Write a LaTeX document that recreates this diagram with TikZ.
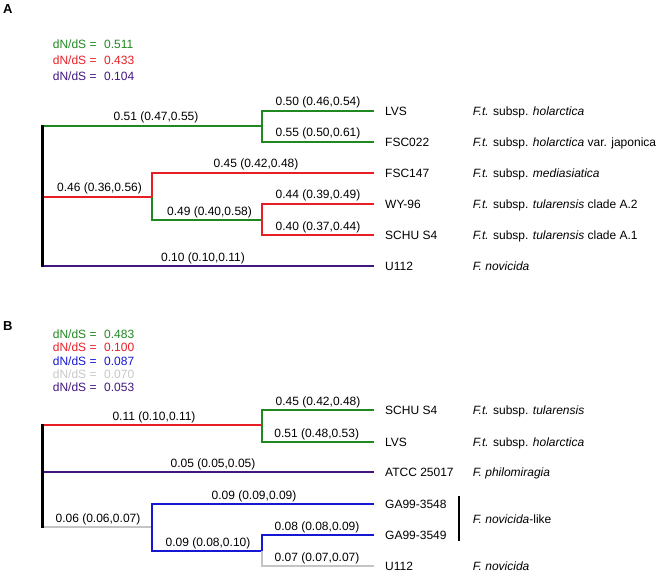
\documentclass[tikz,border=0pt]{standalone}
\usepackage{fontspec}
\setmainfont{Liberation Sans}
\definecolor{grn}{RGB}{32,136,32}
\definecolor{rd}{RGB}{232,30,36}
\definecolor{pur}{RGB}{66,22,128}
\definecolor{blu}{RGB}{22,22,212}
\definecolor{gry}{RGB}{196,196,196}
\definecolor{lgry}{RGB}{200,200,200}
\begin{document}
\begin{tikzpicture}[x=1pt,y=-1pt,font=\fontsize{12}{14}\selectfont,
  br/.style={line width=2.3pt,line join=miter,line cap=butt},
  rootline/.style={line width=3pt,black,shorten <=-1.15pt,shorten >=-1.15pt},
  blab/.style={anchor=base,inner sep=0pt},
  leaf/.style={anchor=west,inner xsep=11pt,inner ysep=0pt,text height=8.6pt,text depth=0pt},
  spec/.style={anchor=west,inner sep=0pt,text height=8.6pt,text depth=0pt},
  leg/.style={anchor=base west,inner sep=0pt},
  panel/.style={anchor=base west,inner sep=0pt,font=\fontsize{13}{15}\selectfont\bfseries}]
\useasboundingbox (0,0) rectangle (661,572);

% ---------------- Panel A ----------------
\node[panel] (pA) at (3,13.7) {A};
\node[leg,text=grn] (legA1) at (52.7,48.3) {dN/dS =\hspace{7.6pt}0.511};
\node[leg,text=rd]  (legA2) at (52.7,65) {dN/dS =\hspace{7.6pt}0.433};
\node[leg,text=pur] (legA3) at (52.7,81) {dN/dS =\hspace{7.6pt}0.104};

\coordinate (rA1) at (42,126);
\coordinate (rA2) at (42,197);
\coordinate (rA3) at (42,266);
\coordinate (nA1) at (262,126);
\coordinate (nA2) at (152,197);
\coordinate (nA3) at (262,220);

\node[leaf] (lvsA)  at (374,111) {LVS};
\node[leaf] (fsc22A) at (374,142) {FSC022};
\node[leaf] (fsc147A) at (374,173) {FSC147};
\node[leaf] (wyA)   at (374,204) {WY-96};
\node[leaf] (schuA) at (374,235) {SCHU S4};
\node[leaf] (uA)    at (374,266) {U112};

\node[spec] (sA1) at (472.7,111) {{\itshape F.t.} subsp. {\itshape holarctica}};
\node[spec] (sA2) at (472.7,142) {{\itshape F.t.} subsp. {\itshape holarctica} var. japonica};
\node[spec] (sA3) at (472.7,173) {{\itshape F.t.} subsp. {\itshape mediasiatica}};
\node[spec] (sA4) at (472.7,204) {{\itshape F.t.} subsp. {\itshape tularensis} clade A.2};
\node[spec] (sA5) at (472.7,235) {{\itshape F.t.} subsp. {\itshape tularensis} clade A.1};
\node[spec] (sA6) at (472.7,266) {{\itshape F. novicida}};

\draw[br,grn] (lvsA.west) -| (nA1) |- (fsc22A.west);
\draw[br,grn] (rA1) -- (nA1);
\draw[br,rd] (fsc147A.west) -| (nA2);
\draw[br,rd] (rA2) -- (nA2);
\draw[br,grn] (nA2) |- (nA3);
\draw[br,rd] (wyA.west) -| (nA3) |- (schuA.west);
\draw[br,pur] (rA3) -- (uA.west);
\draw[rootline] (rA1) -- (rA3);

\node[blab] (bA1) at (318,106) {0.50 (0.46,0.54)};
\node[blab] (bA2) at (156,121) {0.51 (0.47,0.55)};
\node[blab] (bA3) at (318,137) {0.55 (0.50,0.61)};
\node[blab] (bA4) at (256,168) {0.45 (0.42,0.48)};
\node[blab] (bA5) at (99.5,192) {0.46 (0.36,0.56)};
\node[blab] (bA6) at (318,199) {0.44 (0.39,0.49)};
\node[blab] (bA7) at (209.5,215) {0.49 (0.40,0.58)};
\node[blab] (bA8) at (318,230) {0.40 (0.37,0.44)};
\node[blab] (bA9) at (203,261) {0.10 (0.10,0.11)};

% ---------------- Panel B ----------------
\node[panel] (pB) at (3,330.4) {B};
\node[leg,text=grn]  (legB1) at (52.7,338.3) {dN/dS =\hspace{7.6pt}0.483};
\node[leg,text=rd]   (legB2) at (52.7,351.7) {dN/dS =\hspace{7.6pt}0.100};
\node[leg,text=blu]  (legB3) at (52.7,365.1) {dN/dS =\hspace{7.6pt}0.087};
\node[leg,text=lgry] (legB4) at (52.7,378.5) {dN/dS =\hspace{7.6pt}0.070};
\node[leg,text=pur]  (legB5) at (52.7,391.9) {dN/dS =\hspace{7.6pt}0.053};

\coordinate (rB1) at (42,425);
\coordinate (rB2) at (42,472);
\coordinate (rB3) at (42,527);
\coordinate (nB1) at (262,425);
\coordinate (nB2) at (152,527);
\coordinate (nB3) at (262,551);

\node[leaf] (schuB) at (374,410) {SCHU S4};
\node[leaf] (lvsB)  at (374,442) {LVS};
\node[leaf] (atccB) at (374,472) {ATCC 25017};
\node[leaf] (ga48B) at (374,504) {GA99-3548};
\node[leaf] (ga49B) at (374,535) {GA99-3549};
\node[leaf] (uB)    at (374,566) {U112};

\node[spec] (sB1) at (472.7,410) {{\itshape F.t.} subsp. {\itshape tularensis}};
\node[spec] (sB2) at (472.7,442) {{\itshape F.t.} subsp. {\itshape holarctica}};
\node[spec] (sB3) at (472.7,472) {{\itshape F. philomiragia}};
\node[spec] (sB4) at (472.7,519) {{\itshape F. novicida}-like};
\node[spec] (sB5) at (472.7,566) {{\itshape F. novicida}};
\coordinate (barT) at (459,496);
\coordinate (barB) at (459,541);
\draw[line width=1.4pt] (barT) -- (barB);

\draw[br,grn] (schuB.west) -| (nB1) |- (lvsB.west);
\draw[br,rd] (rB1) -- (nB1);
\draw[br,pur] (rB2) -- (atccB.west);
\draw[br,gry] (rB3) -- (nB2);
\draw[br,blu] (ga48B.west) -| (nB2) |- (nB3);
\draw[br,blu] (ga49B.west) -| (nB3);
\draw[br,gry] (nB3) |- (uB.west);
\draw[rootline] (rB1) -- (rB3);

\node[blab] (bB1) at (318,405) {0.45 (0.42,0.48)};
\node[blab] (bB2) at (154,420) {0.11 (0.10,0.11)};
\node[blab] (bB3) at (316.7,437) {0.51 (0.48,0.53)};
\node[blab] (bB4) at (213,467) {0.05 (0.05,0.05)};
\node[blab] (bB5) at (254,499) {0.09 (0.09,0.09)};
\node[blab] (bB6) at (98,522) {0.06 (0.06,0.07)};
\node[blab] (bB7) at (317,530) {0.08 (0.08,0.09)};
\node[blab] (bB8) at (208,546) {0.09 (0.08,0.10)};
\node[blab] (bB9) at (317,561) {0.07 (0.07,0.07)};
\end{tikzpicture}
\end{document}
